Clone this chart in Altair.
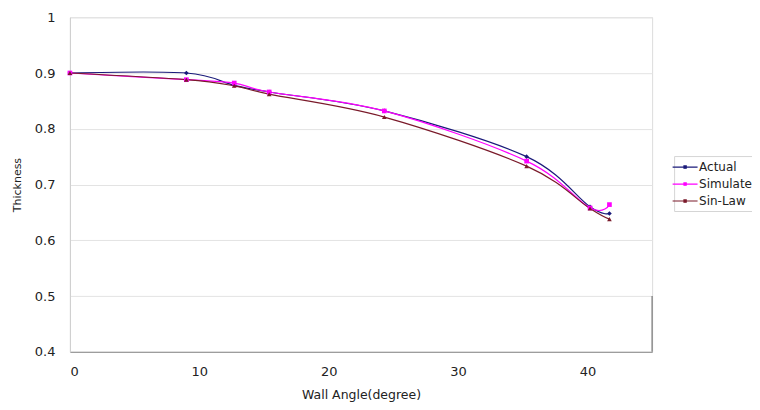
import altair as alt
import pandas as pd

angles = [0, 9, 12.7, 15.4, 24.3, 35.3, 40.2, 41.7]
actual = [0.9, 0.9, 0.878, 0.866, 0.832, 0.75, 0.66, 0.648]
simulate = [0.9, 0.888, 0.882, 0.866, 0.832, 0.742, 0.658, 0.664]
sinlaw = [0.9, 0.888, 0.877, 0.862, 0.821, 0.733, 0.657, 0.638]

series_names = ["Actual", "Simulate", "Sin-Law"]
series_colors = ["#1a1a7a", "#ff00ff", "#7a1a2a"]
series_shapes = ["diamond", "square", "triangle-up"]

rows = []
for name, vals in zip(series_names, [actual, simulate, sinlaw]):
    for a, v in zip(angles, vals):
        rows.append({"angle": a, "thickness": v, "series": name})
df = pd.DataFrame(rows)

FONT = "DejaVu Sans"

x_scale = alt.Scale(domain=[0, 45], nice=False, zero=False)
y_scale = alt.Scale(domain=[0.4, 1.0], nice=False, zero=False)
color_scale = alt.Scale(domain=series_names, range=series_colors)

x_enc = alt.X("angle:Q", scale=x_scale,
              axis=alt.Axis(title="Wall Angle(degree)", values=[0, 10, 20, 30, 40],
                            grid=False, ticks=False, labelPadding=14,
                            domainColor="#8c8c8c", titlePadding=10,
                            labelFontSize=13, titleFontSize=12.5))
y_enc = alt.Y("thickness:Q", scale=y_scale,
              axis=alt.Axis(title="Thickness", values=[0.4, 0.5, 0.6, 0.7, 0.8, 0.9, 1.0],
                            labelExpr="datum.value == 1 ? '1' : format(datum.value, '.1f')",
                            gridColor="#e3e3e3", ticks=False, labelPadding=15,
                            domainColor="#cfcfcf", titlePadding=12,
                            labelFontSize=13, titleFontSize=11))

legend_symbol = "M-2,0L2,0M-0.18,-0.18L0.18,-0.18L0.18,0.18L-0.18,0.18Z"

lines = alt.Chart(df).mark_line(interpolate="cardinal", strokeWidth=1.2).encode(
    x=x_enc,
    y=y_enc,
    color=alt.Color("series:N", scale=color_scale,
                    legend=alt.Legend(title=None, orient="none", legendX=605, legendY=139,
                                      symbolType=legend_symbol, symbolSize=156,
                                      symbolStrokeWidth=1.2, labelFontSize=12,
                                      labelOffset=7, rowPadding=4,
                                      strokeColor="#d5d5d5", padding=4,
                                      labelColor="#222222", labelFont=FONT)),
)

point_layers = []
for name, shp in zip(series_names, series_shapes):
    point_layers.append(
        alt.Chart(df).transform_filter(alt.datum.series == name)
        .mark_point(filled=True, size=22, opacity=1, shape=shp)
        .encode(
            x=alt.X("angle:Q", scale=x_scale),
            y=alt.Y("thickness:Q", scale=y_scale),
            color=alt.Color("series:N", scale=color_scale, legend=None),
        )
    )

edge = alt.Chart(pd.DataFrame({"a": [0]})).mark_rule(color="#8c8c8c", strokeWidth=1.5).encode(
    x=alt.datum(45), y=alt.datum(0.4), y2=alt.datum(0.5)
)

chart = alt.layer(lines, *point_layers, edge).properties(
    width=583, height=335,
    padding={"left": 62, "top": 9, "right": 100, "bottom": 50},
    autosize=alt.AutoSizeParams(type="none"),
).configure_view(
    stroke="#dcdcdc"
).configure_axis(
    labelFont=FONT, titleFont=FONT, titleFontWeight="normal",
    labelColor="#222222", titleColor="#222222"
)

chart.save("out.html", embed_options={"renderer": "svg", "actions": False})
